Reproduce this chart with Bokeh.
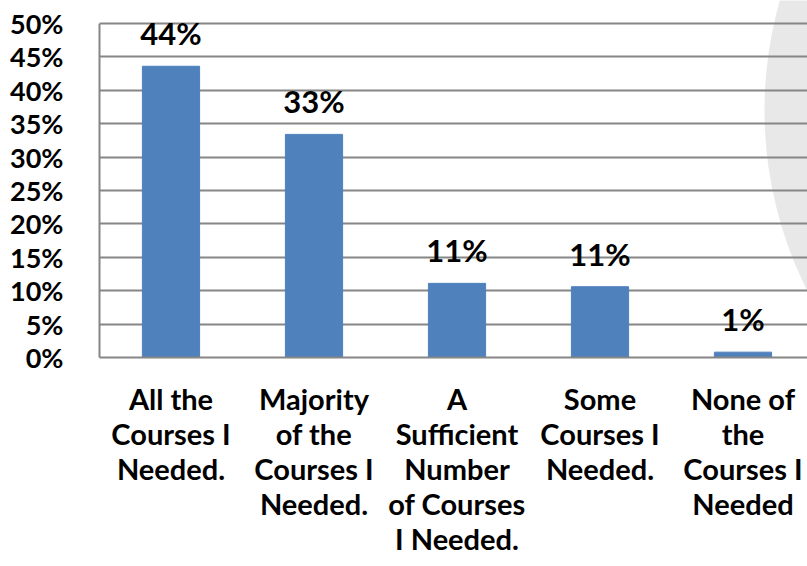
from bokeh.plotting import figure
from bokeh.layouts import column
from bokeh.models import Range1d, FixedTicker, ColumnDataSource
from bokeh.core.properties import value
from bokeh.embed import file_html
from bokeh.resources import INLINE

categories = ["All the\nCourses I\nNeeded.",
              "Majority\nof the\nCourses I\nNeeded.",
              "A\nSufficient\nNumber\nof Courses\nI Needed.",
              "Some\nCourses I\nNeeded.",
              "None of\nthe\nCourses I\nNeeded"]
values = [43.6, 33.4, 11.1, 10.6, 0.8]
labels = ["44%", "33%", "11%", "11%", "1%"]
y_ticks = [0, 5, 10, 15, 20, 25, 30, 35, 40, 45, 50]

FONT = "Lato"
BLUE = "#4F81BD"
GREY = "#868686"

xs = [i + 0.5 for i in range(len(categories))]
src = ColumnDataSource(dict(x=xs, top=values, label=labels))

W = 807
TOP_H = 377
BOT_H = 566 - TOP_H
PX_PER_PCT = 334 / 50

p = figure(width=W, height=TOP_H, output_backend="svg", toolbar_location=None,
           x_range=Range1d(0, 708 / 143), y_range=Range1d(0, 50 + 23 / PX_PER_PCT),
           min_border_left=99, min_border_right=0, min_border_top=0, min_border_bottom=20)
p.outline_line_color = None
p.background_fill_color = "white"

# decorative background shape
p.ellipse(x=[7.45], y=[37], width=[5.6], height=[120], fill_color="#E8E8E8",
          line_color=None, level="underlay")

p.vbar(x="x", top="top", width=0.4, source=src, fill_color=BLUE, line_color=BLUE)
p.text(x="x", y="top", text="label", source=src, text_align="center",
       text_baseline="alphabetic", y_offset=-33, text_font=value(FONT),
       text_font_style="bold", text_font_size="31px", text_color="black")

p.xgrid.grid_line_color = None
p.ygrid.grid_line_color = GREY
p.ygrid.grid_line_width = 2
p.ygrid.ticker = FixedTicker(ticks=y_ticks)

p.yaxis.ticker = FixedTicker(ticks=y_ticks)
p.yaxis.bounds = (0, 50)
p.yaxis.major_label_overrides = {t: f"{t}%" for t in y_ticks}
p.yaxis.major_tick_line_color = None
p.yaxis.minor_tick_line_color = None
p.yaxis.axis_line_color = GREY
p.yaxis.axis_line_width = 2
p.yaxis.major_label_standoff = 30
p.yaxis.major_label_text_font = FONT
p.yaxis.major_label_text_font_style = "bold"
p.yaxis.major_label_text_font_size = "27px"
p.yaxis.major_label_text_color = "black"

p.xaxis.ticker = FixedTicker(ticks=[])
p.xaxis.major_label_standoff = 0
p.xaxis.major_tick_line_color = None
p.xaxis.minor_tick_line_color = None
p.xaxis.axis_line_color = GREY
p.xaxis.axis_line_width = 2

# category labels strip, sharing the x scale
p2 = figure(width=W, height=BOT_H, output_backend="svg", toolbar_location=None,
            x_range=p.x_range, y_range=Range1d(0, BOT_H),
            min_border_left=99, min_border_right=0, min_border_top=0, min_border_bottom=0)
p2.outline_line_color = None
p2.xaxis.visible = False
p2.yaxis.visible = False
p2.xgrid.grid_line_color = None
p2.ygrid.grid_line_color = None
src2 = ColumnDataSource(dict(x=xs, y=[BOT_H - 3] * len(xs), text=categories))
p2.text(x="x", y="y", text="text", source=src2, text_align="center", text_baseline="top",
        text_font=value(FONT), text_font_style="bold", text_font_size="29px",
        text_color="black", text_line_height=1.0)

layout = column(p, p2, spacing=0)
open("out.html", "w").write(file_html(layout, INLINE))
